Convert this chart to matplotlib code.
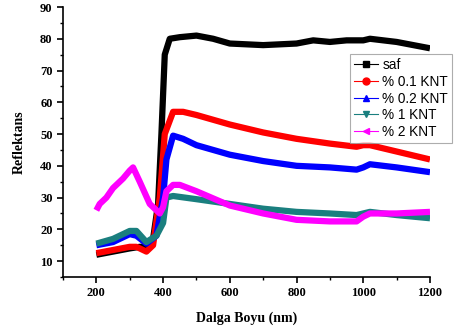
import matplotlib
matplotlib.use("Agg")
import matplotlib.pyplot as plt
from matplotlib.lines import Line2D
from matplotlib.ticker import MultipleLocator

# Data
x_saf = [200, 250, 300, 330, 350, 370, 385, 395, 405, 420, 450, 500, 550, 600, 700, 800, 850, 900, 950, 1000, 1020, 1100, 1200]
y_saf = [12, 13, 14, 14.5, 14.5, 17, 28, 50, 75, 80, 80.5, 81, 80, 78.5, 78, 78.5, 79.5, 79, 79.5, 79.5, 80, 79, 77]

x_01 = [200, 250, 300, 320, 350, 370, 390, 405, 430, 460, 500, 600, 700, 800, 900, 980, 1000, 1020, 1100, 1200]
y_01 = [12.5, 13.5, 14.5, 14.5, 13, 15, 30, 50, 57, 57, 56, 53, 50.5, 48.5, 47, 46, 46.5, 46.5, 44.5, 42]

x_02 = [200, 250, 300, 320, 350, 380, 400, 410, 430, 460, 500, 600, 700, 800, 900, 980, 1000, 1020, 1100, 1200]
y_02 = [15, 16, 18.5, 18, 15.5, 18, 30, 42, 49.5, 48.5, 46.5, 43.5, 41.5, 40, 39.5, 38.8, 39.5, 40.5, 39.5, 38]

x_1 = [200, 250, 300, 320, 350, 380, 400, 410, 430, 500, 600, 700, 800, 900, 980, 1000, 1020, 1100, 1200]
y_1 = [15.5, 17, 19.5, 19.5, 16, 18, 22, 30, 30.5, 29.5, 28, 26.5, 25.5, 25, 24.5, 25, 25.5, 24.5, 23.5]

x_2 = [200, 210, 230, 250, 280, 300, 310, 330, 360, 390, 400, 410, 430, 450, 500, 600, 700, 800, 900, 980, 1000, 1020, 1100, 1200]
y_2 = [26, 28, 30, 33, 36, 38.5, 39.5, 35, 28, 25, 27, 32, 34, 34, 32, 27.5, 25, 23, 22.5, 22.5, 24, 25, 25, 25.5]

labels = ["saf", "% 0.1 KNT", "% 0.2 KNT", "% 1 KNT", "% 2 KNT"]
colors = ["#000000", "#ff0000", "#0000ff", "#1a7f7f", "#ff00ff"]
markers = ["s", "o", "^", "v", "<"]

fig = plt.figure(figsize=(4.59, 3.33), dpi=100)
ax = fig.add_axes([63/459, 1-277/333, (430-63)/459, (277-7)/333])

series = [(x_saf, y_saf), (x_01, y_01), (x_02, y_02), (x_1, y_1), (x_2, y_2)]
for (xs, ys), c in zip(series, colors):
    ax.plot(xs, ys, color=c, lw=4.5, solid_capstyle="butt", solid_joinstyle="round")

ax.set_xlim(100, 1200)
ax.set_ylim(5, 90)
ax.spines["top"].set_visible(False)
ax.spines["right"].set_visible(False)
ax.spines["left"].set_linewidth(1.2)
ax.spines["bottom"].set_linewidth(1.2)
ax.set_xticks([200, 400, 600, 800, 1000, 1200])
ax.set_yticks([10, 20, 30, 40, 50, 60, 70, 80, 90])
ax.xaxis.set_minor_locator(MultipleLocator(100))
ax.yaxis.set_minor_locator(MultipleLocator(5))
ax.tick_params(which="major", length=4, width=1.2, direction="out")
ax.tick_params(which="minor", length=2.5, width=1.0, direction="out")
for lab in ax.get_xticklabels() + ax.get_yticklabels():
    lab.set_fontfamily("Liberation Serif")
    lab.set_fontweight("bold")
    lab.set_fontsize(9)
ax.set_xlabel("Dalga Boyu (nm)", fontfamily="Liberation Serif", fontweight="bold", fontsize=10, labelpad=9)
ax.set_ylabel("Reflektans", fontfamily="Liberation Serif", fontweight="bold", fontsize=10, labelpad=10)

handles = [Line2D([0], [0], color=c, lw=0.8, marker=m, markersize=5) for c, m in zip(colors, markers)]
leg = fig.legend(handles, labels, loc="upper right", bbox_to_anchor=(452/459, 1-54/333),
                 prop={"family": "Liberation Sans", "size": 9.8}, frameon=True, fancybox=False,
                 borderaxespad=0, handlelength=1.8, handletextpad=0.3, labelspacing=0.2,
                 borderpad=0.3)
leg.get_frame().set_edgecolor("#999999")
leg.get_frame().set_linewidth(0.8)

fig.savefig("out.png", dpi=100)
